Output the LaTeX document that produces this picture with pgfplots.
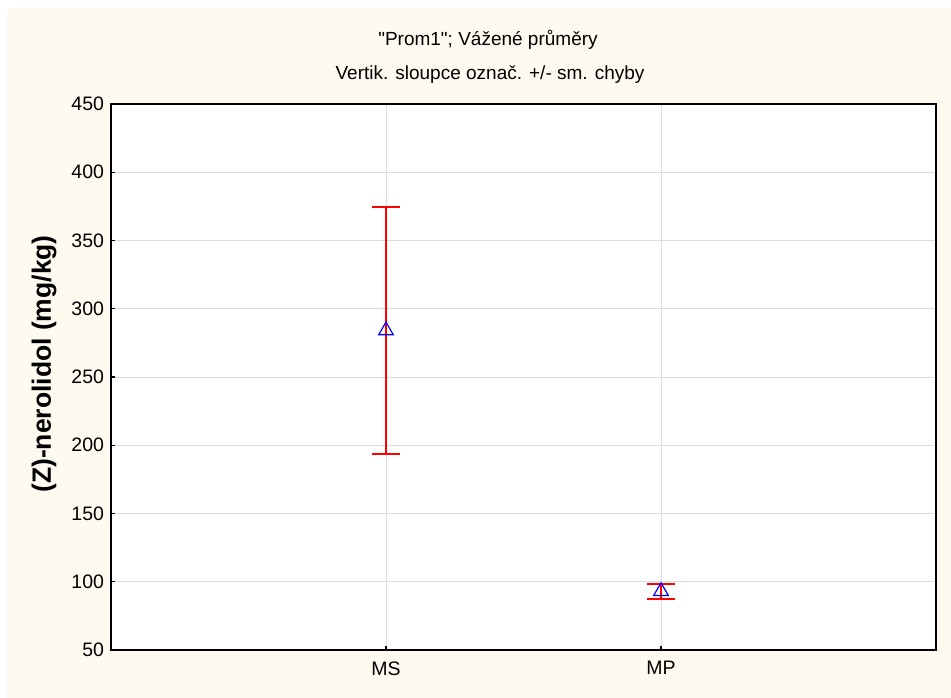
\documentclass[border=0pt]{standalone}
\usepackage{pgfplots}
\pgfplotsset{compat=1.18}
\usepackage{fontspec}
\setmainfont{Liberation Sans}
\newfontfamily\nolig{Liberation Sans}[Ligatures=TeXOff]
\definecolor{bgcream}{RGB}{255,250,240}
\definecolor{gridgray}{RGB}{220,220,220}
\begin{document}
\begin{tikzpicture}[x=1pt,y=1pt]
\fill[white] (0,0) rectangle (951,698);
\fill[bgcream] (7,0) rectangle (951,690);
\node[font=\fontsize{19}{21}\selectfont\nolig] at (488,658) {"Prom1"; Vážené průměry};
\node[font=\fontsize{19}{21}\selectfont] at (490,623) {Vertik. sloupce označ. +/- sm. chyby};
\node[rotate=90, font=\fontsize{26.5}{28}\selectfont\bfseries] at (44,334) {(Z)-nerolidol (mg/kg)};
\begin{axis}[
  at={(111pt,48pt)}, anchor=south west, scale only axis,
  width=825pt, height=546pt,
  xmin=0, xmax=3, ymin=50, ymax=450,
  xtick={1,2}, xticklabels={MS,MP},
  ytick={50,100,...,450},
  grid=major, grid style={color=gridgray, line width=0.8pt},
  axis line style={line width=1.8pt},
  tick style={black, line width=1.2pt}, tick align=inside,
  major tick length=4pt,
  xtick pos=bottom, ytick pos=left,
  axis background/.style={fill=white},
  tick label style={font=\fontsize{19.5}{21}\selectfont},
  xticklabel style={yshift=-8pt},
  yticklabel style={xshift=-3.5pt},
  /pgf/number format/assume math mode=true,
]
\addplot[blue, only marks, mark=triangle, mark size=8.5pt, mark options={line width=1.2pt},
  error bars/.cd, y dir=both, y explicit,
  error bar style={red, line width=2.2pt},
  error mark options={red, rotate=90, mark size=14pt, line width=2.2pt}]
  coordinates {(1,284) +- (0,90.5) (2,93) +- (0,5.6)};
\end{axis}
\end{tikzpicture}
\end{document}
